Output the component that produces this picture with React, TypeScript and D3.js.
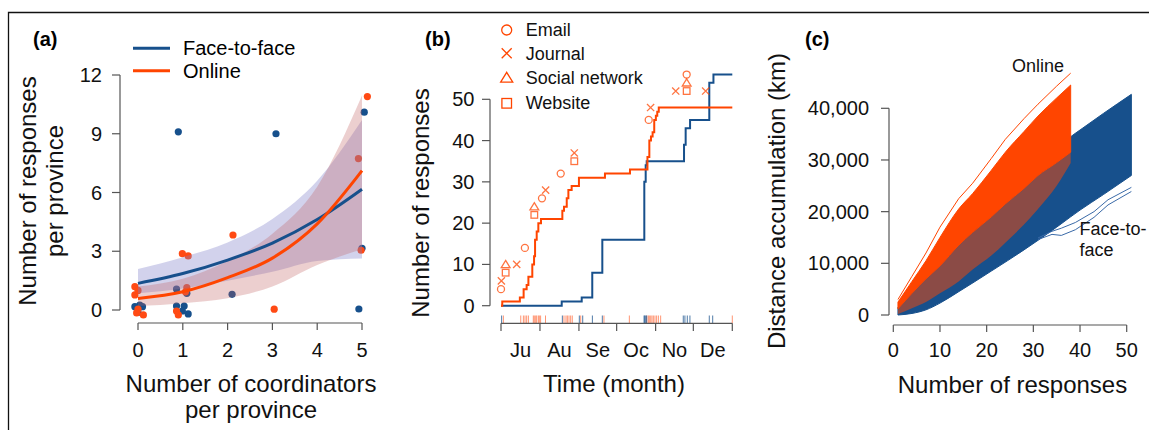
import React from 'react';
import * as d3 from 'd3';

const FONT = '"Liberation Sans", Arial, Helvetica, sans-serif';
const BLUE = '#17508c';
const ORANGE = '#ff4500';
const AXIS = '#555';

// ---------- Panel (a) ----------
const coordTicks = [0, 1, 2, 3, 4, 5];
const respTicksA = [0, 3, 6, 9, 12];
const ftfPtX = [0.9, 3.08, 5.05, 5.0, 4.93, 2.1, 0.86, 1.09, 0.86, 1.03, 0.99, 1.12, -0.07, 0.04, 0.1, 0.0];
const ftfPtY = [9.1, 9.0, 10.1, 3.15, 0.05, 0.8, 1.07, 0.85, 0.2, 0.2, -0.05, -0.2, 0.17, 0.25, 0.17, -0.12];
const onPtX = [5.12, 4.92, 4.98, 2.12, 0.99, 1.12, -0.07, -0.07, 0.0, 1.09, 1.06, 0.0, 0.12, 0.86, 0.9, 3.04, -0.03];
const onPtY = [10.9, 7.73, 3.05, 3.83, 2.88, 2.76, 1.19, 0.77, 1.0, 1.14, 0.93, 0.04, -0.25, -0.05, -0.25, 0.04, -0.15];
const fitX = [0, 1, 2, 3, 4, 5];
const ftfFit = [1.36, 1.86, 2.55, 3.42, 4.62, 6.17];
const ftfLower = [0.85, 1.1, 1.5, 1.95, 2.5, 2.63];
const ftfUpper = [2.1, 2.7, 3.45, 4.65, 6.6, 9.7];
const onFit = [0.59, 0.93, 1.65, 2.65, 4.4, 7.12];
const onLower = [0.2, 0.35, 0.6, 1.2, 2.3, 3.1];
const onUpper = [1.2, 1.6, 2.5, 3.9, 6.3, 10.95];

// ---------- Panel (b) ----------
const monthBounds = [0, 31, 62, 92, 123, 153, 184];
const monthLabels = ['Ju', 'Au', 'Se', 'Oc', 'No', 'De'];
const respTicksB = [0, 10, 20, 30, 40, 50];
const onStepDay = [0, 1, 15, 18, 20.4, 21.8, 24.9, 26.3, 27.1, 28.4, 29.7, 31.8, 48.8, 50.1, 52.3, 53.6, 56.2, 62, 82.7, 102.6, 116.5, 118, 119.3, 120.6, 121.9, 123.2, 124.3, 125.5, 184];
const onStepVal = [0, 1, 2, 4, 5, 7, 10, 12, 16, 18, 20, 21, 23, 24, 26, 28, 29, 31, 32, 33, 36, 40, 41, 42, 45, 46, 47, 48, 48];
const ftfStepDay = [0, 48.3, 64.2, 72.6, 80.6, 114, 115.1, 115.9, 145.6, 146.9, 150.4, 165.7, 169, 184];
const ftfStepVal = [0, 1, 2, 8, 16, 30, 34, 35, 39, 43, 45, 54, 56, 56];
const ftfRug = [0.5, 48.8, 62.3, 65, 72.7, 80.6, 113.8, 114.3, 115.1, 115.9, 145, 146.3, 148.2, 150.3, 165.7, 168.4];
const onRug = [1.9, 15.7, 17.8, 19.1, 20.4, 21.8, 25.7, 26.5, 27.6, 28.4, 29.7, 30.5, 31.5, 35.4, 50.1, 51.7, 52.8, 54.1, 55.4, 56.7, 63.4, 81.9, 102.1, 115.9, 117.2, 118, 119.1, 120.1, 121.2, 122.5, 123.8, 125.2, 127, 184];
const emailDay = [0, 19, 32.6, 47.5, 117.5, 147.7];
const emailVal = [4, 14, 26, 32, 45, 56];
const journalDay = [0.3, 12.5, 35.5, 58.3, 119, 139, 162.8];
const journalVal = [6, 10, 28, 37, 48, 52, 52];
const socialDay = [3.7, 26.5, 147.7];
const socialVal = [10, 24, 54];
const websiteDay = [3.7, 26.5, 58.3, 147.7];
const websiteVal = [8, 22, 35, 52];
const channelNames = ['Email', 'Journal', 'Social network', 'Website'];

// ---------- Panel (c) ----------
const respTicksC = [0, 10, 20, 30, 40, 50];
const distTicks = [0, 10000, 20000, 30000, 40000];
const blueN = [1, 4, 7, 10, 14, 21, 28, 35, 38, 40, 45, 51];
const blueLow = [0, 300, 1000, 2300, 4500, 8500, 12600, 17000, 19000, 20300, 23300, 27000];
const blueHigh = [1500, 4500, 7500, 10000, 13500, 20000, 26000, 32000, 34500, 35800, 39000, 42700];
const blueOutN = [31, 34, 36, 39, 43, 46, 51];
const blueOutV = [14600, 15600, 15400, 16500, 18900, 21300, 23900];
const blueOut2V = [14900, 16200, 16800, 17900, 20000, 22300, 24700];
const orN = [1, 4, 7, 10, 14, 17, 21, 24, 28, 31, 35, 38];
const orTop = [2500, 6500, 10500, 15000, 20500, 23500, 28000, 31500, 35500, 38500, 42000, 44500];
const orOut = [3000, 7500, 12000, 17000, 22500, 25500, 30300, 34000, 38000, 40800, 44300, 46800];
const orSolidLow = [1200, 4200, 7000, 9500, 13500, 16000, 19000, 21500, 24500, 27000, 29500, 31500];
const orLow = [200, 1300, 2500, 4200, 6500, 8800, 11500, 14000, 17500, 20500, 25000, 29400];

function App() {
  const xa = d3.scaleLinear().domain([0, 5]).range([138, 362]);
  const ya = d3.scaleLinear().domain([0, 12]).range([310, 75]);
  const xb = d3.scaleLinear().domain([0, 184]).range([501, 732.3]);
  const yb = d3.scaleLinear().domain([0, 50]).range([305.7, 99.3]);
  const xc = d3.scaleLinear().domain([0, 50]).range([893.3, 1126.7]);
  const yc = d3.scaleLinear().domain([0, 40000]).range([315, 108.3]);

  const bandA = (lo: number[], hi: number[]) =>
    d3.area<number>().x((d) => xa(d)).y0((_, i) => ya(lo[i])).y1((_, i) => ya(hi[i])).curve(d3.curveMonotoneX)(fitX) || '';
  const lineA = (v: number[]) =>
    d3.line<number>().x((d) => xa(d)).y((_, i) => ya(v[i])).curve(d3.curveMonotoneX)(fitX) || '';
  const stepB = (days: number[], vals: number[]) =>
    d3.line<number>().x((d) => xb(d)).y((_, i) => yb(vals[i])).curve(d3.curveStepAfter)(days) || '';
  const areaC = (ns: number[], lo: number[], hi: number[]) =>
    d3.area<number>().x((d) => xc(d)).y0((_, i) => yc(lo[i])).y1((_, i) => yc(hi[i])).curve(d3.curveMonotoneX)(ns) || '';
  const lineC = (ns: number[], v: number[]) =>
    d3.line<number>().x((d) => xc(d)).y((_, i) => yc(v[i])).curve(d3.curveLinear)(ns) || '';

  const fmt = d3.format(',');
  const tickFont = { fontFamily: FONT, fontSize: 20, fill: '#111' } as const;
  const titleFont = { fontFamily: FONT, fontSize: 24, fill: '#111' } as const;

  const circle = (cx: number, cy: number, r: number, op: number, k: string) => (
    <circle key={k} cx={cx} cy={cy} r={r} fill="none" stroke={ORANGE} strokeWidth={1.3} opacity={op} />
  );
  const cross = (cx: number, cy: number, s: number, op: number, k: string) => (
    <path key={k} d={`M${cx - s},${cy - s}L${cx + s},${cy + s}M${cx - s},${cy + s}L${cx + s},${cy - s}`} stroke={ORANGE} strokeWidth={1.3} opacity={op} fill="none" />
  );
  const tri = (cx: number, cy: number, s: number, op: number, k: string) => (
    <path key={k} d={`M${cx},${cy - s}L${cx + s * 1.1},${cy + s * 0.8}L${cx - s * 1.1},${cy + s * 0.8}Z`} stroke={ORANGE} strokeWidth={1.3} opacity={op} fill="none" />
  );
  const sq = (cx: number, cy: number, s: number, op: number, k: string) => (
    <rect key={k} x={cx - s} y={cy - s} width={2 * s} height={2 * s} stroke={ORANGE} strokeWidth={1.3} opacity={op} fill="none" />
  );

  return (
    <svg width={1149} height={430} style={{ position: 'absolute', left: 0, top: 0, background: '#fff' }}>
      <rect x={0} y={0} width={1149} height={430} fill="#fff" />
      <path d="M8.5,440 L8.5,12.5 L1160,12.5" fill="none" stroke="#111" strokeWidth={1.3} />

      {/* ================= Panel (a) ================= */}
      <text x={33} y={46} fontFamily={FONT} fontSize={20} fontWeight="bold">(a)</text>
      <line x1={133} x2={170} y1={48.3} y2={48.3} stroke={BLUE} strokeWidth={3} />
      <line x1={133} x2={170} y1={70.7} y2={70.7} stroke={ORANGE} strokeWidth={3} />
      <text x={183} y={55} fontFamily={FONT} fontSize={20}>Face-to-face</text>
      <text x={183} y={78} fontFamily={FONT} fontSize={20}>Online</text>

      {ftfPtX.map((x, i) => (
        <circle key={'fp' + i} cx={xa(x)} cy={ya(ftfPtY[i])} r={3.6} fill={BLUE} />
      ))}
      {onPtX.map((x, i) => (
        <circle key={'op' + i} cx={xa(x)} cy={ya(onPtY[i])} r={3.6} fill="#ff4a14" />
      ))}
      <path d={bandA(ftfLower, ftfUpper)} fill="#7f7fc8" opacity={0.35} />
      <path d={bandA(onLower, onUpper)} fill="#c06060" opacity={0.3} />
      <path d={lineA(ftfFit)} fill="none" stroke={BLUE} strokeWidth={3} />
      <path d={lineA(onFit)} fill="none" stroke={ORANGE} strokeWidth={3} />

      <line x1={120} x2={120} y1={ya(12)} y2={ya(0)} stroke={AXIS} strokeWidth={1.2} />
      {respTicksA.map((t) => (
        <g key={'ya' + t}>
          <line x1={112} x2={120} y1={ya(t)} y2={ya(t)} stroke={AXIS} strokeWidth={1.2} />
          <text x={102} y={ya(t) + 7} textAnchor="end" {...tickFont}>{t}</text>
        </g>
      ))}
      <line x1={xa(0)} x2={xa(5)} y1={323} y2={323} stroke={AXIS} strokeWidth={1.2} />
      {coordTicks.map((t) => (
        <g key={'xa' + t}>
          <line x1={xa(t)} x2={xa(t)} y1={323} y2={330} stroke={AXIS} strokeWidth={1.2} />
          <text x={xa(t)} y={357} textAnchor="middle" {...tickFont}>{t}</text>
        </g>
      ))}
      <text x={251} y={392} textAnchor="middle" {...titleFont}>Number of coordinators</text>
      <text x={251} y={418} textAnchor="middle" {...titleFont}>per province</text>
      <text transform="translate(36,191) rotate(-90)" textAnchor="middle" {...titleFont}>Number of responses</text>
      <text transform="translate(62.5,191) rotate(-90)" textAnchor="middle" {...titleFont}>per province</text>

      {/* ================= Panel (b) ================= */}
      <text x={425} y={46} fontFamily={FONT} fontSize={20} fontWeight="bold">(b)</text>
      {circle(506.7, 30, 5, 1, 'lg0')}
      {cross(506.7, 53.3, 5, 1, 'lg1')}
      {tri(506.7, 77.8, 5.5, 1, 'lg2')}
      {sq(506.7, 103.3, 4.8, 1, 'lg3')}
      {channelNames.map((n, i) => (
        <text key={'ln' + i} x={525.7} y={[36, 60, 83.5, 109][i]} fontFamily={FONT} fontSize={18} fill="#111">{n}</text>
      ))}

      <path d={stepB(ftfStepDay, ftfStepVal)} fill="none" stroke={BLUE} strokeWidth={2} />
      <path d={stepB(onStepDay, onStepVal)} fill="none" stroke={ORANGE} strokeWidth={2} />

      {emailDay.map((d, i) => circle(xb(d), yb(emailVal[i]), 3.5, 0.75, 'em' + i))}
      {journalDay.map((d, i) => cross(xb(d), yb(journalVal[i]), 3.6, 0.75, 'jo' + i))}
      {socialDay.map((d, i) => tri(xb(d), yb(socialVal[i]), 4, 0.75, 'so' + i))}
      {websiteDay.map((d, i) => sq(xb(d), yb(websiteVal[i]), 3.3, 0.75, 'we' + i))}

      {onRug.map((d, i) => (
        <line key={'or' + i} x1={xb(d)} x2={xb(d)} y1={315.5} y2={323} stroke="#ff6a3a" strokeWidth={1} opacity={0.7} />
      ))}
      {ftfRug.map((d, i) => (
        <line key={'br' + i} x1={xb(d)} x2={xb(d)} y1={315.5} y2={323} stroke={BLUE} strokeWidth={1} opacity={0.75} />
      ))}

      <line x1={490} x2={490} y1={yb(50)} y2={yb(0)} stroke={AXIS} strokeWidth={1.2} />
      {respTicksB.map((t) => (
        <g key={'yb' + t}>
          <line x1={482} x2={490} y1={yb(t)} y2={yb(t)} stroke={AXIS} strokeWidth={1.2} />
          <text x={474.5} y={yb(t) + 7} textAnchor="end" {...tickFont}>{t}</text>
        </g>
      ))}
      <line x1={xb(0)} x2={xb(184)} y1={323.3} y2={323.3} stroke={AXIS} strokeWidth={1.2} />
      {monthBounds.map((t) => (
        <line key={'xb' + t} x1={xb(t)} x2={xb(t)} y1={323.3} y2={331} stroke={AXIS} strokeWidth={1.2} />
      ))}
      {monthLabels.map((m, i) => (
        <text key={'ml' + m} x={(xb(monthBounds[i]) + xb(monthBounds[i + 1])) / 2} y={357} textAnchor="middle" {...tickFont}>{m}</text>
      ))}
      <text x={614} y={392} textAnchor="middle" {...titleFont}>Time (month)</text>
      <text transform="translate(428.5,203) rotate(-90)" textAnchor="middle" {...titleFont}>Number of responses</text>

      {/* ================= Panel (c) ================= */}
      <text x={805} y={46} fontFamily={FONT} fontSize={20} fontWeight="bold">(c)</text>

      <path d={areaC(blueN, blueLow, blueHigh)} fill={BLUE} stroke={BLUE} strokeWidth={1} />
      <path d={lineC(blueOutN, blueOutV)} fill="none" stroke="#3a6aa8" strokeWidth={1} />
      <path d={lineC(blueOutN, blueOut2V)} fill="none" stroke="#3a6aa8" strokeWidth={1} />
      <path d={areaC(orN, orLow, orSolidLow)} fill={ORANGE} opacity={0.5} />
      <path d={areaC(orN, orSolidLow, orTop)} fill={ORANGE} stroke={ORANGE} strokeWidth={1} />
      <path d={lineC(orN, orOut)} fill="none" stroke={ORANGE} strokeWidth={1} />

      <line x1={889} x2={889} y1={yc(40000)} y2={yc(0)} stroke={AXIS} strokeWidth={1.2} />
      {distTicks.map((t) => (
        <g key={'yc' + t}>
          <line x1={881} x2={889} y1={yc(t)} y2={yc(t)} stroke={AXIS} strokeWidth={1.2} />
          <text x={869} y={yc(t) + 7} textAnchor="end" {...tickFont}>{fmt(t)}</text>
        </g>
      ))}
      <line x1={xc(0)} x2={xc(50)} y1={325} y2={325} stroke={AXIS} strokeWidth={1.2} />
      {respTicksC.map((t) => (
        <g key={'xc' + t}>
          <line x1={xc(t)} x2={xc(t)} y1={325} y2={332} stroke={AXIS} strokeWidth={1.2} />
          <text x={xc(t)} y={357} textAnchor="middle" {...tickFont}>{t}</text>
        </g>
      ))}
      <text x={1012.5} y={393} textAnchor="middle" {...titleFont}>Number of responses</text>
      <text transform="translate(785,201) rotate(-90)" textAnchor="middle" {...titleFont}>Distance accumulation (km)</text>
      <text x={1038} y={71.5} textAnchor="middle" fontFamily={FONT} fontSize={18} fill="#111">Online</text>
      <text x={1079.5} y={235} fontFamily={FONT} fontSize={18} fill="#111">Face-to-</text>
      <text x={1079.5} y={256} fontFamily={FONT} fontSize={18} fill="#111">face</text>
    </svg>
  );
}

export default App;
